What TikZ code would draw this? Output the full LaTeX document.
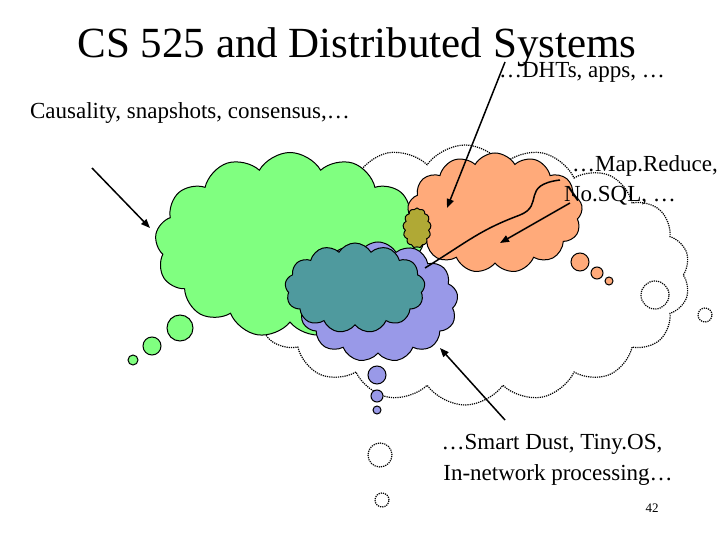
\documentclass[tikz,border=0pt]{standalone}
\usepackage{fontspec}
\setmainfont{Liberation Serif}
\usetikzlibrary{shapes.symbols,arrows.meta}
\definecolor{cgreen}{HTML}{80FF80}
\definecolor{corange}{HTML}{FFAA7A}
\definecolor{cblue}{HTML}{9999E8}
\definecolor{cteal}{HTML}{4F9A9E}
\begin{document}
\begin{tikzpicture}[x=1pt,y=-1pt,
  cl/.style={cloud,cloud puffs=13,cloud puff arc=120,cloud ignores aspect,draw=black,line width=1pt,inner sep=0pt},
  dcl/.style={cloud,cloud puffs=18,cloud puff arc=110,cloud ignores aspect,draw=black,densely dotted,line width=1.2pt,inner sep=0pt},
  bub/.style={circle,draw=black,line width=1pt,inner sep=0pt},
  dbub/.style={circle,draw=black,densely dotted,line width=1.2pt,inner sep=0pt},
  arr/.style={-{Triangle[length=9pt,width=7pt]},line width=1.5pt},
  txt/.style={font=\fontsize{23}{25}\selectfont,inner sep=0pt}]
\useasboundingbox (0,0) rectangle (720,540);
% big dotted cloud
\node[dcl,minimum width=450,minimum height=260] (dc) at (465,275) {};
\node[dbub,minimum size=28] (d1) at (655,295) {};
\node[dbub,minimum size=14] (d2) at (705,315) {};
\node[dbub,minimum size=24] (d3) at (380,455) {};
\node[dbub,minimum size=14] (d4) at (382,500) {};
% clouds
\node[cl,fill=cgreen,minimum width=270,minimum height=185] (g) at (290,245) {};
\node[cl,fill=corange,minimum width=175,minimum height=120] (o) at (495,213) {};
\node[cl,fill=cblue,minimum width=160,minimum height=120] (b) at (378,302) {};
\node[cl,fill=cteal,minimum width=140,minimum height=90] (t) at (355,288) {};
\node[cl,fill=olive!70,minimum width=28,minimum height=40] (ol) at (417,228) {};
% bubbles
\node[bub,fill=cgreen,minimum size=26] (g1) at (180,328) {};
\node[bub,fill=cgreen,minimum size=18] (g2) at (152,346) {};
\node[bub,fill=cgreen,minimum size=10] (g3) at (133,360) {};
\node[bub,fill=corange,minimum size=18] (o1) at (580,262) {};
\node[bub,fill=corange,minimum size=12] (o2) at (597,273) {};
\node[bub,fill=corange,minimum size=8] (o3) at (609,281) {};
\node[bub,fill=cblue,minimum size=18] (b1) at (377,375) {};
\node[bub,fill=cblue,minimum size=12] (b2) at (377,396) {};
\node[bub,fill=cblue,minimum size=8] (b3) at (377,410) {};
% texts
\node[inner sep=0pt,font=\fontsize{43}{45}\selectfont] (title) at (357,47) {CS 525 and Distributed Systems};
\node[txt] (dht) at (582,72) {…DHTs, apps, …};
\node[txt] (caus) at (190,113) {Causality, snapshots, consensus,…};
\node[txt] (mr) at (645,166) {…Map.Reduce,};
\node[txt] (nos) at (620,196) {No.SQL, …};
\node[txt] (sd) at (552,444) {…Smart Dust, Tiny.OS,};
\node[txt] (inp) at (558,475) {In-network processing…};
\node[inner sep=0pt,font=\fontsize{13}{15}\selectfont] (pg) at (652,508) {42};
% arrows
\coordinate (a1s) at (92,168); \coordinate (a1e) at (150,228);
\draw[arr] (a1s) -- (a1e);
\coordinate (a2s) at (505,62); \coordinate (a2e) at (447,208);
\draw[arr] (a2s) -- (a2e);
\coordinate (a3s) at (570,203); \coordinate (a3e) at (500,243);
\draw[arr] (a3s) -- (a3e);
\coordinate (a4s) at (505,420); \coordinate (a4e) at (440,348);
\draw[arr] (a4s) -- (a4e);
\coordinate (w1) at (425,268); \coordinate (w2) at (560,180);
\draw[line width=1.5pt] (w1) .. controls (470,240) and (480,230) .. (520,215) .. controls (545,205) and (520,185) .. (w2);
\end{tikzpicture}
\end{document}
